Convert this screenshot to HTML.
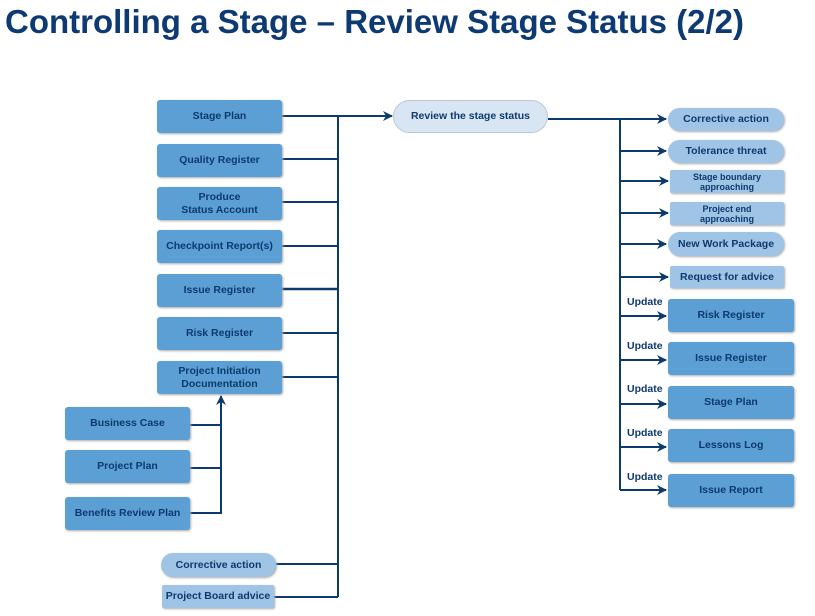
<!DOCTYPE html>
<html><head><style>
body{margin:0;width:815px;height:616px;background:#fff;font-family:"Liberation Sans",sans-serif;position:relative;overflow:hidden}
h1{position:absolute;left:5px;top:3px;margin:0;font-size:33px;color:#0d3a72;font-weight:bold;letter-spacing:0px}
.b{position:absolute;display:flex;align-items:center;justify-content:center;text-align:center;font-weight:bold;color:#0d3a6e;font-size:10.5px;line-height:13px;box-sizing:border-box}
.d{background:#5b9fd4;border-radius:3px;box-shadow:1px 1px 2px #aaa}
.l{background:#9fc4e6;border-radius:2px;box-shadow:1px 1px 2px #aaa}
.p{background:#9fc4e6;border-radius:13px;box-shadow:1px 1px 2px #aaa}
.u{position:absolute;font-size:10.5px;font-weight:bold;color:#0d3a6e}
svg{position:absolute;left:0;top:0}
</style></head><body>
<h1>Controlling a Stage – Review Stage Status (2/2)</h1>
<svg width="815" height="616">
<defs><marker id="a" markerWidth="10" markerHeight="10" refX="9" refY="5" orient="auto" markerUnits="userSpaceOnUse"><path d="M0,0 L10,5 L0,10 L3,5z" fill="#0d3a6e"/></marker></defs>
<g stroke="#0d3a6e" stroke-width="2" fill="none">
<line x1="338" y1="116" x2="338" y2="597"/>
<line x1="282" y1="116" x2="392" y2="116" marker-end="url(#a)"/>
<line x1="282" y1="159" x2="338" y2="159"/>
<line x1="282" y1="202" x2="338" y2="202"/>
<line x1="282" y1="246" x2="338" y2="246"/>
<line x1="282" y1="289" x2="338" y2="289" stroke-width="2.5"/>
<line x1="282" y1="333" x2="338" y2="333"/>
<line x1="282" y1="377" x2="338" y2="377"/>
<line x1="276" y1="564" x2="338" y2="564"/>
<line x1="274" y1="597" x2="338" y2="597"/>
<line x1="190" y1="425" x2="221" y2="425"/>
<line x1="190" y1="468" x2="221" y2="468"/>
<polyline points="190,513 221,513 221,396" marker-end="url(#a)"/>
<line x1="548" y1="119" x2="666" y2="119" marker-end="url(#a)"/>
<line x1="620" y1="119" x2="620" y2="490"/>
<line x1="620" y1="151" x2="666" y2="151" marker-end="url(#a)"/>
<line x1="620" y1="181" x2="668" y2="181" marker-end="url(#a)"/>
<line x1="620" y1="213" x2="668" y2="213" marker-end="url(#a)"/>
<line x1="620" y1="244" x2="666" y2="244" marker-end="url(#a)"/>
<line x1="620" y1="277" x2="668" y2="277" marker-end="url(#a)"/>
<line x1="620" y1="316" x2="666" y2="316" marker-end="url(#a)"/>
<line x1="620" y1="360" x2="666" y2="360" marker-end="url(#a)"/>
<line x1="620" y1="404" x2="666" y2="404" marker-end="url(#a)"/>
<line x1="620" y1="447" x2="666" y2="447" marker-end="url(#a)"/>
<line x1="620" y1="490" x2="666" y2="490" marker-end="url(#a)"/>
</g></svg>
<div class="b d" style="left:157px;top:100px;width:125px;height:33px">Stage Plan</div>
<div class="b d" style="left:157px;top:144px;width:125px;height:33px">Quality Register</div>
<div class="b d" style="left:157px;top:187px;width:125px;height:33px">Produce<br>Status Account</div>
<div class="b d" style="left:157px;top:230px;width:125px;height:33px">Checkpoint Report(s)</div>
<div class="b d" style="left:157px;top:274px;width:125px;height:33px">Issue Register</div>
<div class="b d" style="left:157px;top:317px;width:125px;height:33px">Risk Register</div>
<div class="b d" style="left:157px;top:361px;width:125px;height:33px">Project Initiation<br>Documentation</div>
<div class="b d" style="left:65px;top:407px;width:125px;height:33px">Business Case</div>
<div class="b d" style="left:65px;top:450px;width:125px;height:33px">Project Plan</div>
<div class="b d" style="left:65px;top:497px;width:125px;height:33px">Benefits Review Plan</div>
<div class="b p" style="left:161px;top:553px;width:115px;height:24px">Corrective action</div>
<div class="b l" style="left:162px;top:585px;width:112px;height:23px">Project Board advice</div>
<div class="b" style="left:393px;top:100px;width:155px;height:33px;background:#d8e6f4;border:1px solid #b8c8d8;border-radius:17px">Review the stage status</div>
<div class="b p" style="left:668px;top:108px;width:116px;height:23px">Corrective action</div>
<div class="b p" style="left:668px;top:140px;width:116px;height:23px">Tolerance threat</div>
<div class="b l" style="left:670px;top:170px;width:114px;height:23px;font-size:9px;line-height:10px">Stage boundary<br>approaching</div>
<div class="b l" style="left:670px;top:202px;width:114px;height:23px;font-size:9px;line-height:10px">Project end<br>approaching</div>
<div class="b p" style="left:668px;top:232px;width:116px;height:24px">New Work Package</div>
<div class="b l" style="left:670px;top:266px;width:114px;height:22px">Request for advice</div>
<div class="b d" style="left:668px;top:299px;width:126px;height:33px">Risk Register</div>
<div class="b d" style="left:668px;top:342px;width:126px;height:33px">Issue Register</div>
<div class="b d" style="left:668px;top:386px;width:126px;height:33px">Stage Plan</div>
<div class="b d" style="left:668px;top:429px;width:126px;height:33px">Lessons Log</div>
<div class="b d" style="left:668px;top:474px;width:126px;height:33px">Issue Report</div>
<div class="u" style="left:627px;top:296px">Update</div>
<div class="u" style="left:627px;top:340px">Update</div>
<div class="u" style="left:627px;top:383px">Update</div>
<div class="u" style="left:627px;top:427px">Update</div>
<div class="u" style="left:627px;top:471px">Update</div>
</body></html>
